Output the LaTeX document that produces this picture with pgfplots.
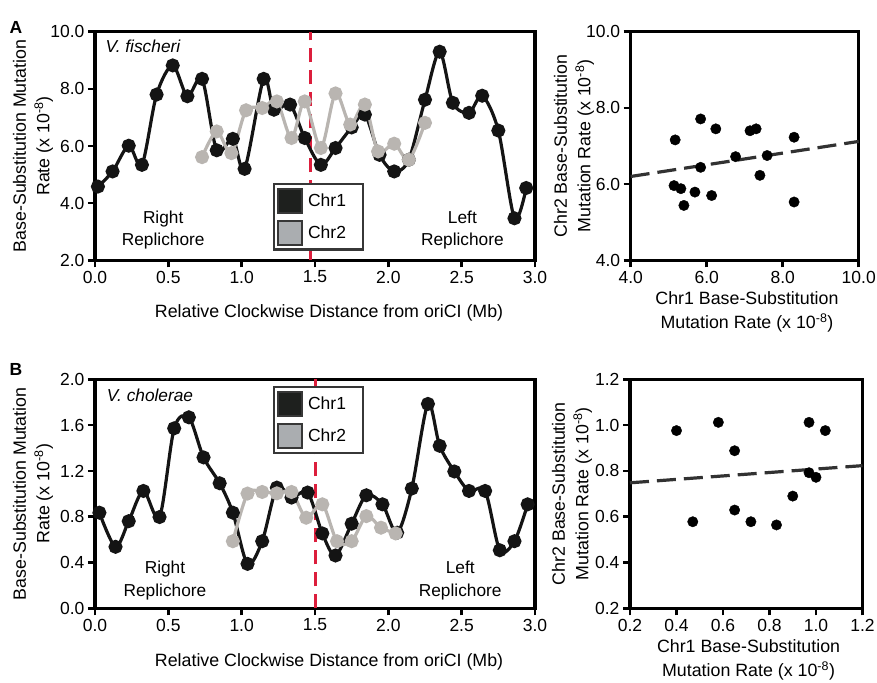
\documentclass[border=0pt]{standalone}
\usepackage{fontspec}
\setmainfont{Liberation Sans}
\usepackage{pgfplots}
\pgfplotsset{compat=1.18}

\definecolor{chrone}{RGB}{20,20,20}
\definecolor{chrtwo}{RGB}{185,181,177}
\definecolor{legone}{RGB}{30,32,30}
\definecolor{legtwo}{RGB}{170,173,176}
\definecolor{legedge}{RGB}{55,55,55}
\definecolor{oriline}{RGB}{220,30,60}
\definecolor{trend}{RGB}{50,50,50}

\pgfplotsset{
  panel/.style={
    scale only axis, clip=false,
    axis line style={line width=3.2pt},
    tick align=outside, tick pos=left,
    major tick length=7pt,
    tick style={line width=2.6pt, black},
    tick label style={font=\fontsize{17.5}{20}\selectfont},
    label style={font=\fontsize{17.8}{23.5}\selectfont, align=center},
    /pgf/number format/fixed,
    /pgf/number format/fixed zerofill,
    /pgf/number format/precision=1,
    /pgf/number format/assume math mode=true,
  },
  track/.style={panel, width=440pt, xmin=0, xmax=3,
    xtick={0,0.5,1,1.5,2,2.5,3},
    xlabel={Relative Clockwise Distance from oriCI (Mb)},
    ylabel={Base-Substitution Mutation\\Rate (x 10\textsuperscript{-8})},
    ylabel style={at={(axis description cs:-0.141,0.5)}, anchor=center},
    legend cell align=left,
    legend style={anchor=north west, draw=legedge, line width=2.4pt, fill=white,
      font=\fontsize{17.5}{20}\selectfont, inner xsep=3pt, inner ysep=4pt, row sep=6pt},
  },
  scat/.style={panel,
    xlabel={Chr1 Base-Substitution\\Mutation Rate (x 10\textsuperscript{-8})},
    ylabel={Chr2 Base-Substitution\\Mutation Rate (x 10\textsuperscript{-8})},
    xlabel style={at={(axis description cs:0.51,-0.226)}, anchor=center},
    ylabel style={at={(axis description cs:-0.249,0.5)}, anchor=center},
  },
  one/.style={chrone, line width=3.2pt, smooth, mark=*, mark size=5.4pt, mark options={fill=chrone}},
  two/.style={chrtwo, line width=3.2pt, smooth, mark=*, mark size=5.4pt, mark options={fill=chrtwo}},
  dot/.style={only marks, mark=*, mark size=5.2pt, black},
  fit/.style={trend, line width=3.2pt, dash pattern=on 19pt off 8pt},
  ori/.style={oriline, line width=3pt, dash pattern=on 14pt off 8pt},
}

\newcommand{\legsquares}{%
  \addlegendimage{legend image code/.code={\draw[line width=1.8pt, draw=legedge, fill=legone] (0pt,-12pt) rectangle (24pt,12pt); \path (27pt,0pt);}}
  \addlegendentry{\makebox[50pt][l]{Chr1}}
  \addlegendimage{legend image code/.code={\draw[line width=1.8pt, draw=legedge, fill=legtwo] (0pt,-12pt) rectangle (24pt,12pt); \path (27pt,0pt);}}
  \addlegendentry{\makebox[50pt][l]{Chr2}}}

\begin{document}
\begin{tikzpicture}
\useasboundingbox (0,0) rectangle (877pt,682pt);

\node[font=\bfseries\fontsize{17.5}{20}\selectfont] at (16pt,655pt) {A};
\node[font=\bfseries\fontsize{17.5}{20}\selectfont] at (16pt,313pt) {B};

% ---- A, V. fischeri along the chromosome
\begin{axis}[track, at={(95pt,421.7pt)}, anchor=south west, height=228.6pt,
    ymin=2, ymax=10, ytick={2,4,6,8,10},
    xlabel style={at={(axis description cs:0.532,-0.23)}, anchor=center},
    legend style={at={(rel axis cs:0.404,0.339)}}]
\legsquares
\addplot[ori, forget plot] coordinates {(1.47,2)(1.47,10)};
\addplot[one, forget plot] coordinates {
 (0.02,4.58)(0.12,5.11)(0.23,6.01)(0.32,5.34)(0.42,7.80)(0.53,8.82)(0.63,7.74)(0.73,8.35)
 (0.83,5.85)(0.94,6.25)(1.02,5.20)(1.15,8.35)(1.22,7.27)(1.33,7.45)(1.43,6.28)(1.54,5.34)
 (1.64,5.93)(1.75,6.65)(1.84,7.10)(1.94,5.69)(2.04,5.11)(2.14,5.52)(2.25,7.62)(2.35,9.30)
 (2.44,7.51)(2.55,7.16)(2.64,7.76)(2.75,6.54)(2.86,3.47)(2.94,4.53)};
\addplot[two, forget plot] coordinates {
 (0.73,5.61)(0.83,6.51)(0.93,5.75)(1.03,7.25)(1.14,7.33)(1.24,7.56)(1.34,6.28)(1.43,7.56)
 (1.54,5.93)(1.64,7.84)(1.74,6.75)(1.84,7.45)(1.93,5.81)(2.04,6.08)(2.14,5.52)(2.25,6.81)};
\node[anchor=west, font=\itshape\fontsize{17.3}{20}\selectfont] at (rel axis cs:0.016,0.937) {V. fischeri};
\node[align=center, font=\fontsize{17.3}{22.5}\selectfont] at (rel axis cs:0.155,0.133) {Right\\Replichore};
\node[align=center, font=\fontsize{17.3}{22.5}\selectfont] at (rel axis cs:0.835,0.133) {Left\\Replichore};
\end{axis}

% ---- A, Chr1 against Chr2
\begin{axis}[scat, at={(630.7pt,421.7pt)}, anchor=south west, width=228pt, height=228.6pt,
    xmin=4, xmax=10, ymin=4, ymax=10, xtick={4,6,8,10}, ytick={4,6,8,10}]
\addplot[fit] coordinates {(4,6.20)(10,7.12)};
\addplot[dot] coordinates {
 (5.17,7.16)(5.14,5.96)(5.32,5.88)(5.40,5.44)(5.84,7.71)(5.69,5.79)(5.84,6.44)(6.13,5.70)
 (6.24,7.45)(6.76,6.72)(7.14,7.40)(7.30,7.45)(7.40,6.23)(7.59,6.75)(8.30,7.23)(8.30,5.53)};
\end{axis}

% ---- B, V. cholerae along the chromosome
\begin{axis}[track, at={(95pt,73.7pt)}, anchor=south west, height=229pt,
    ymin=0, ymax=2, ytick={0,0.4,0.8,1.2,1.6,2.0},
    xlabel style={at={(axis description cs:0.532,-0.235)}, anchor=center},
    legend style={at={(rel axis cs:0.404,0.971)}}]
\legsquares
\addplot[ori, forget plot] coordinates {(1.50,0)(1.50,2)};
\addplot[one, forget plot] coordinates {
 (0.03,0.835)(0.14,0.537)(0.23,0.761)(0.33,1.025)(0.44,0.797)(0.54,1.572)(0.64,1.668)(0.74,1.318)
 (0.85,1.092)(0.94,0.835)(1.04,0.388)(1.14,0.586)(1.24,1.054)(1.34,0.967)(1.45,1.011)(1.55,0.654)
 (1.64,0.461)(1.75,0.739)(1.85,0.987)(1.96,0.908)(2.06,0.660)(2.16,1.046)(2.27,1.785)(2.35,1.419)
 (2.45,1.195)(2.55,1.025)(2.66,1.025)(2.76,0.507)(2.86,0.586)(2.95,0.908)};
\addplot[two, forget plot] coordinates {
 (0.94,0.586)(1.04,1.002)(1.14,1.016)(1.24,1.004)(1.34,1.016)(1.44,0.791)(1.55,0.908)(1.65,0.586)
 (1.75,0.586)(1.85,0.805)(1.95,0.704)(2.05,0.654)};
\node[anchor=west, font=\itshape\fontsize{17.3}{20}\selectfont] at (rel axis cs:0.019,0.931) {V. cholerae};
\node[align=center, font=\fontsize{17.3}{22.5}\selectfont] at (rel axis cs:0.159,0.121) {Right\\Replichore};
\node[align=center, font=\fontsize{17.3}{22.5}\selectfont] at (rel axis cs:0.83,0.121) {Left\\Replichore};
\end{axis}

% ---- B, Chr1 against Chr2
\begin{axis}[scat, at={(630pt,73.7pt)}, anchor=south west, width=232.5pt, height=229pt,
    xmin=0.2, xmax=1.2, ymin=0.2, ymax=1.2,
    xtick={0.2,0.4,0.6,0.8,1.0,1.2}, ytick={0.2,0.4,0.6,0.8,1.0,1.2}]
\addplot[fit] coordinates {(0.2,0.748)(1.2,0.823)};
\addplot[dot] coordinates {
 (0.40,0.976)(0.47,0.578)(0.58,1.012)(0.65,0.888)(0.65,0.629)(0.72,0.578)(0.83,0.564)(0.90,0.690)
 (0.97,1.012)(0.97,0.792)(1.00,0.772)(1.04,0.976)};
\end{axis}
\end{tikzpicture}
\end{document}
